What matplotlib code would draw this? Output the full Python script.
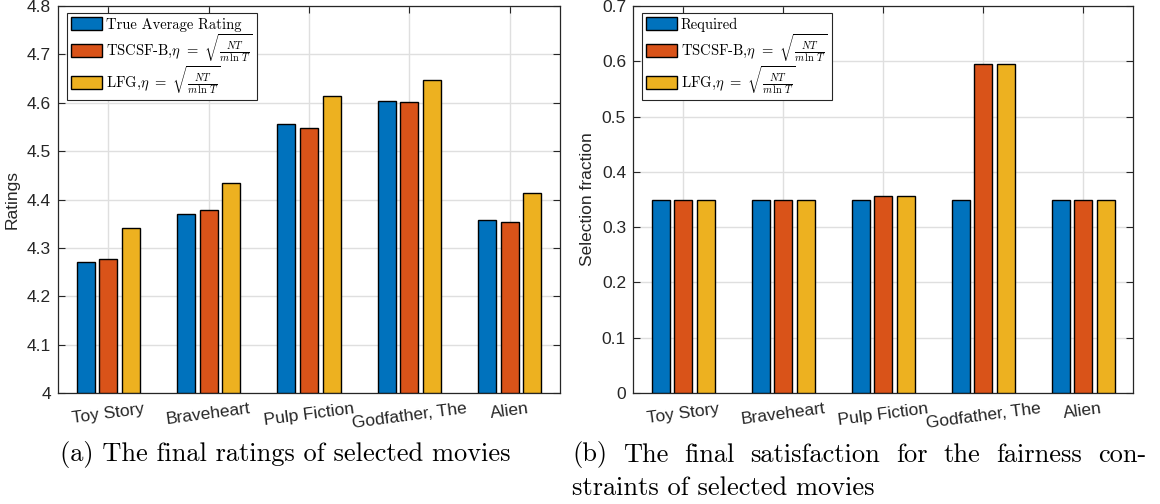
"""
Grouped bar charts: final ratings and fairness satisfaction of selected movies.
"""

import numpy as np
import matplotlib
matplotlib.use("Agg")
import matplotlib.pyplot as plt

movies = ["Toy Story", "Braveheart", "Pulp Fiction", "Godfather, The", "Alien"]

# panel (a): ratings
true_rating = [4.270, 4.369, 4.556, 4.604, 4.357]
tscsf_rating = [4.276, 4.378, 4.547, 4.602, 4.354]
lfg_rating = [4.342, 4.434, 4.613, 4.647, 4.413]

# panel (b): selection fraction
required = [0.35, 0.35, 0.35, 0.35, 0.35]
tscsf_frac = [0.349, 0.349, 0.356, 0.595, 0.349]
lfg_frac = [0.349, 0.349, 0.356, 0.595, 0.349]

eta = r"$\eta\ =\ \sqrt{\frac{NT}{m\,\ln\,T}}$"
labels_a = ["True Average Rating", "TSCSF-B," + eta, "LFG," + eta]
labels_b = ["Required", "TSCSF-B," + eta, "LFG," + eta]

colors = ["#0072BD", "#D95319", "#EDB120"]
dark = "#262626"

plt.rcParams["mathtext.fontset"] = "cm"
plt.rcParams["font.family"] = ["Liberation Sans", "DejaVu Sans"]
plt.rcParams["axes.unicode_minus"] = False


def bar_panel(ax, series, labels, ylim, yticks, ytick_labels, ylabel, bottom):
    x = np.arange(1, len(movies) + 1)
    offsets = [-0.225, 0.0, 0.225]
    handles = []
    for vals, off, col in zip(series, offsets, colors):
        heights = np.array(vals) - bottom
        h = ax.bar(x + off, heights, width=0.18, bottom=bottom, color=col,
                   edgecolor="black", linewidth=1.0, zorder=3)
        handles.append(h)

    ax.set_xlim(0.5, 5.5)
    ax.set_ylim(*ylim)
    ax.set_xticks(x)
    ax.set_xticklabels(movies, rotation=7.5, fontsize=12.5, color=dark)
    ax.set_yticks(yticks)
    ax.set_yticklabels(ytick_labels, fontsize=12.5, color=dark)
    ax.set_ylabel(ylabel, fontsize=12.5, color=dark, labelpad=5)

    ax.grid(True, color="#dfdfdf", linewidth=1.0, zorder=0)
    ax.set_axisbelow(True)
    ax.tick_params(direction="in", length=5, width=0.8, color=dark,
                   top=True, right=True)
    ax.tick_params(axis="x", pad=6)
    ax.tick_params(axis="y", pad=5)
    for s in ax.spines.values():
        s.set_color(dark)
        s.set_linewidth(0.9)

    leg = ax.legend(handles, labels, loc="upper left",
                    bbox_to_anchor=(0.018, 0.982), borderaxespad=0.0,
                    prop={"family": "cmr10", "size": 10.5},
                    fancybox=False, edgecolor=dark, framealpha=1.0,
                    handlelength=2.1, handleheight=1.0, handletextpad=0.25,
                    labelspacing=0.0, borderpad=0.3)
    leg.get_frame().set_linewidth(0.8)
    return ax


def justified_line(fig, renderer, text, x0, x1, y, size):
    """Place the words of one caption line so they fill x0..x1 (pixels)."""
    words = text.split(" ")
    objs = [fig.text(0, 0, w, fontsize=size, family="cmr10", va="center")
            for w in words]
    widths = [o.get_window_extent(renderer).width for o in objs]
    gap = (x1 - x0 - sum(widths)) / (len(words) - 1)
    xpos = x0
    W, H = fig.bbox.width, fig.bbox.height
    for o, w in zip(objs, widths):
        o.set_position((xpos / W, 1 - y / H))
        xpos += w + gap


fig = plt.figure(figsize=(11.6, 5.04), dpi=100)
ax_a = fig.add_axes([58 / 1160, 1 - 393 / 504, 502 / 1160, 387 / 504])
ax_b = fig.add_axes([633 / 1160, 1 - 393 / 504, 500 / 1160, 387 / 504])

bar_panel(ax_a, [true_rating, tscsf_rating, lfg_rating], labels_a,
          (4.0, 4.8), np.arange(4.0, 4.81, 0.1),
          ["4", "4.1", "4.2", "4.3", "4.4", "4.5", "4.6", "4.7", "4.8"],
          "Ratings", 4.0)
bar_panel(ax_b, [required, tscsf_frac, lfg_frac], labels_b,
          (0.0, 0.7), np.arange(0.0, 0.71, 0.1),
          ["0", "0.1", "0.2", "0.3", "0.4", "0.5", "0.6", "0.7"],
          "Selection fraction", 0.0)

cap_size = 19
fig.text(60 / 1160, 1 - 455 / 504, "(a) The final ratings of selected movies",
         fontsize=cap_size, family="cmr10", va="center")

renderer = fig.canvas.get_renderer()
justified_line(fig, renderer,
               "(b) The final satisfaction for the fairness con-",
               572, 1146, 455, cap_size)
fig.text(572 / 1160, 1 - 488 / 504, "straints of selected movies",
         fontsize=cap_size, family="cmr10", va="center")

fig.savefig("out.png", dpi=100)
